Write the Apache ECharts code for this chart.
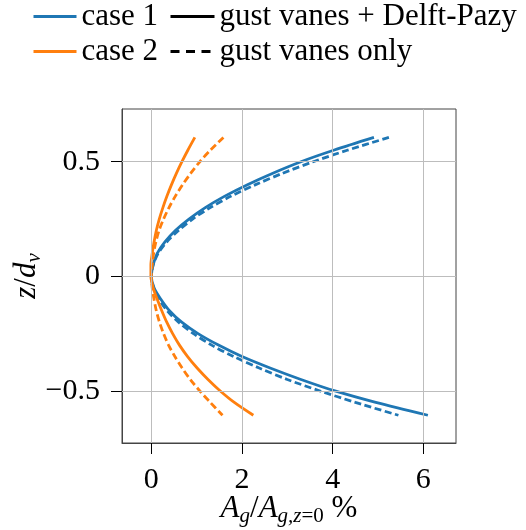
<!DOCTYPE html>
<html>
<head>
<meta charset="utf-8">
<script src="https://cdn.jsdelivr.net/npm/echarts@6/dist/echarts.min.js"></script>
<style>
  html, body { margin: 0; padding: 0; background: #fff; }
  #chart { width: 526px; height: 530px; }
</style>
</head>
<body>
<div id="chart"></div>
<script>
// z/d_v levels, top to bottom
const zLevels = [0.606, 0.55, 0.5, 0.45, 0.4, 0.35, 0.3, 0.25, 0.2, 0.15, 0.1, 0.05, 0,
  -0.05, -0.1, -0.15, -0.2, -0.25, -0.3, -0.35, -0.4, -0.45, -0.5, -0.55, -0.606];

// A_g / A_g,z=0 in %
const case1Full = [4.91, 4.02, 3.30, 2.68, 2.12, 1.62, 1.19, 0.83, 0.53, 0.30, 0.13, 0.04, 0.0,
  0.06, 0.21, 0.40, 0.67, 1.03, 1.48, 2.00, 2.62, 3.30, 4.05, 4.95, 6.10];
const case1Vanes = [5.24, 4.32, 3.57, 2.90, 2.30, 1.76, 1.30, 0.91, 0.60, 0.34, 0.15, 0.04, 0.0,
  0.05, 0.17, 0.35, 0.60, 0.93, 1.33, 1.82, 2.38, 3.00, 3.72, 4.50, 5.45];
const case2Full = [0.96, 0.805, 0.675, 0.555, 0.445, 0.345, 0.255, 0.175, 0.11, 0.06, 0.02, -0.01, -0.01,
  0.04, 0.13, 0.23, 0.34, 0.47, 0.62, 0.80, 1.01, 1.25, 1.52, 1.83, 2.25];
const case2Vanes = [1.59, 1.30, 1.07, 0.87, 0.69, 0.53, 0.39, 0.27, 0.17, 0.10, 0.05, 0.02, 0.0,
  0.02, 0.06, 0.11, 0.18, 0.27, 0.38, 0.52, 0.68, 0.86, 1.07, 1.30, 1.57];

const xTicks = [0, 2, 4, 6];
const yTicks = [-0.5, 0, 0.5];

const blue = '#1f77b4';
const orange = '#ff7f0e';
const font = 'Liberation Serif';

function pairs(xs) {
  return xs.map((x, i) => [x, zLevels[i]]);
}

function curve(name, xs, color, dashed) {
  return {
    name: name,
    type: 'line',
    data: pairs(xs),
    smooth: 0.3,
    showSymbol: false,
    symbol: 'none',
    color: color,
    lineStyle: { color: color, width: 2.8, type: dashed ? [7, 3.5] : 'solid' },
    z: 3,
  };
}

const legendText = { fontFamily: font, fontSize: 31, color: '#000' };

const myChart = echarts.init(document.getElementById('chart'));
const option = {
  animation: false,
  textStyle: { fontFamily: font },
  grid: {
    left: 122,
    right: 70,
    top: 109,
    bottom: 87,
    show: true,
    borderColor: '#444',
    borderWidth: 1,
    containLabel: false,
    outerBoundsMode: 'none',
  },
  legend: [{
    orient: 'vertical',
    left: 32,
    top: 1,
    padding: 0,
    itemWidth: 43,
    itemHeight: 14,
    itemGap: 4,
    itemStyle: { opacity: 0 },
    data: [
      { name: 'case 1', lineStyle: { color: blue, width: 3 } },
      { name: 'case 2', lineStyle: { color: orange, width: 3 } },
    ],
    textStyle: legendText,
  }, {
    orient: 'vertical',
    left: 169,
    top: 1,
    padding: 0,
    itemWidth: 44,
    itemHeight: 14,
    itemGap: 4,
    itemStyle: { opacity: 0 },
    data: [
      { name: 'gust vanes + Delft-Pazy', lineStyle: { color: '#000', width: 3 } },
      { name: 'gust vanes only', lineStyle: { color: '#000', width: 3, type: [9, 6.5] } },
    ],
    textStyle: legendText,
  }],
  xAxis: {
    type: 'value',
    min: -0.647,
    max: 6.72,
    name: '{i|A}{s|g}{n|/}{i|A}{s|g,z}{t|=0}{n| %}',
    nameLocation: 'middle',
    nameGap: 48,
    nameMoveOverlap: false,
    nameTextStyle: {
      rich: {
        i: { fontFamily: font, fontStyle: 'italic', fontSize: 31, color: '#000' },
        n: { fontFamily: font, fontSize: 31, color: '#000' },
        s: { fontFamily: font, fontStyle: 'italic', fontSize: 21, color: '#000', padding: [15, 0, 0, 0] },
        t: { fontFamily: font, fontSize: 21, color: '#000', padding: [15, 0, 0, 0] },
      },
    },
    axisLine: { show: true, onZero: false, lineStyle: { color: '#444', width: 1 } },
    axisTick: { show: true, length: 11, customValues: xTicks, lineStyle: { color: '#000', width: 1 } },
    axisLabel: { customValues: xTicks, fontFamily: font, fontSize: 30, color: '#000', margin: 22 },
    splitLine: { show: false },
  },
  yAxis: {
    type: 'value',
    min: -0.727,
    max: 0.730,
    name: '{i|z}{n|/}{i|d}{s|v}',
    nameLocation: 'middle',
    nameRotate: 90,
    nameGap: 77,
    nameMoveOverlap: false,
    nameTextStyle: {
      rich: {
        i: { fontFamily: font, fontStyle: 'italic', fontSize: 31, color: '#000' },
        n: { fontFamily: font, fontSize: 31, color: '#000' },
        s: { fontFamily: font, fontStyle: 'italic', fontSize: 21, color: '#000', padding: [15, 0, 0, 0] },
      },
    },
    axisLine: { show: true, onZero: false, lineStyle: { color: '#444', width: 1 } },
    axisTick: { show: true, length: 11, customValues: yTicks, lineStyle: { color: '#000', width: 1 } },
    axisLabel: {
      customValues: yTicks,
      fontFamily: font,
      fontSize: 30,
      color: '#000',
      margin: 22,
      formatter: (v) => (v < 0 ? '\u2212' + Math.abs(v) : String(v)),
    },
    splitLine: { show: false },
  },
  series: [
    // grid lines at the tick values
    {
      name: 'grid',
      type: 'line',
      data: [],
      z: 1,
      silent: true,
      markLine: {
        silent: true,
        symbol: 'none',
        label: { show: false },
        animation: false,
        lineStyle: { color: '#bdbdbd', width: 1, type: 'solid' },
        emphasis: { disabled: true },
        data: xTicks.map((v) => ({ xAxis: v })).concat(yTicks.map((v) => ({ yAxis: v }))),
      },
    },
    curve('case 1', case1Full, blue, false),
    curve('case 1 (vanes only)', case1Vanes, blue, true),
    curve('case 2', case2Full, orange, false),
    curve('case 2 (vanes only)', case2Vanes, orange, true),
    // legend-only entries for the line styles
    {
      name: 'gust vanes + Delft-Pazy',
      type: 'line',
      data: [],
      symbol: 'none',
      color: '#000',
      lineStyle: { color: '#000', width: 2.8 },
    },
    {
      name: 'gust vanes only',
      type: 'line',
      data: [],
      symbol: 'none',
      color: '#000',
      lineStyle: { color: '#000', width: 2.8, type: [9, 6.5] },
    },
  ],
};
myChart.setOption(option);
</script>
</body>
</html>
